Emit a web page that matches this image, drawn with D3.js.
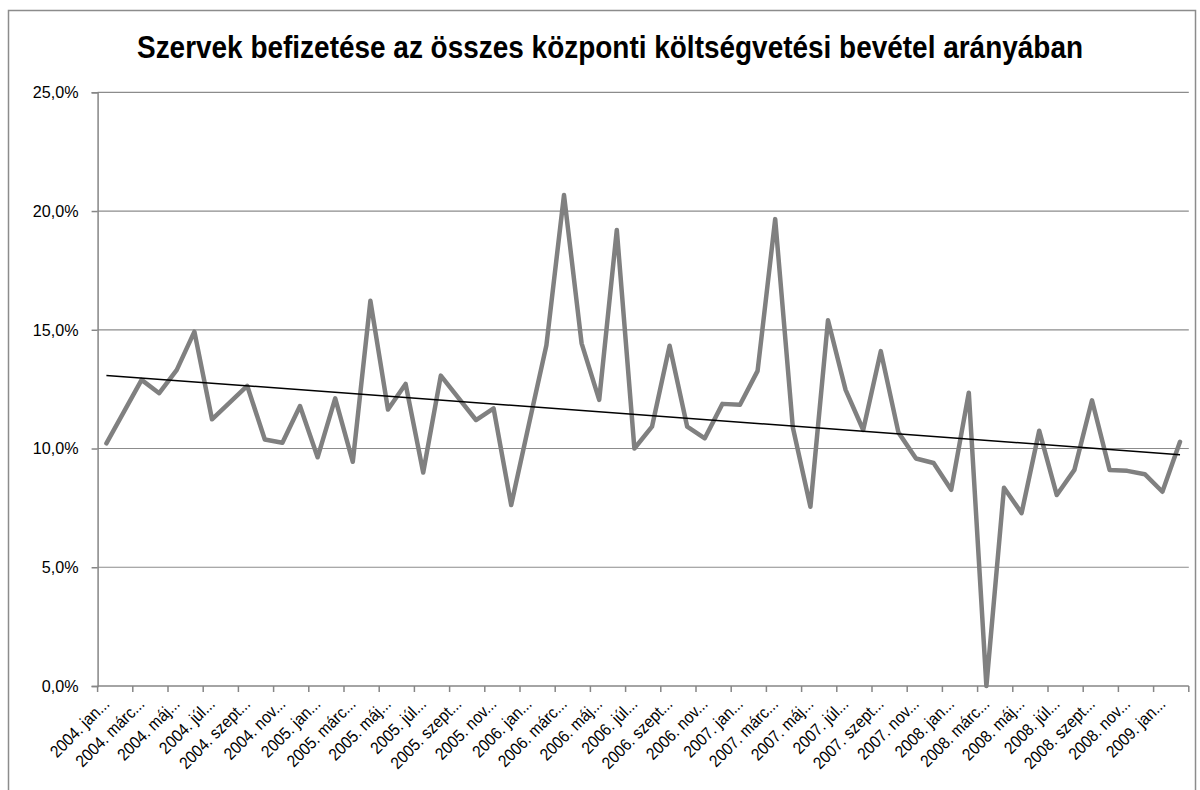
<!DOCTYPE html>
<html>
<head>
<meta charset="utf-8">
<script src="https://d3js.org/d3.v7.min.js"></script>
<style>
	body {margin: 0; background: #fff; }
	svg {display: block; }
	text {font-family: 'Liberation Sans', Arial, sans-serif; fill: #000; }
</style>
</head>
<body>
<svg id="chart" width="1200" height="790"></svg>
<script>
// chart title and axis ticks
const title = "Szervek befizetése az összes központi költségvetési bevétel arányában";
const years = [2004, 2005, 2006, 2007, 2008, 2009];
const monthNames = ["jan.", "febr.", "márc.", "ápr.", "máj.", "jún.", "júl.", "aug.", "szept.", "okt.", "nov.", "dec."];
const yTicks = [0, 5, 10, 15, 20, 25];

// monthly share (%), 2004 jan -> 2009 febr
const values = [
	10.22, 11.55, 12.89, 12.33, 13.31, 14.92, 11.23, 11.93, 12.64, 10.38, 10.24, 11.79,
	9.63, 12.11, 9.44, 16.22, 11.64, 12.72, 8.99, 13.07, 12.13, 11.20, 11.69, 7.62,
	11.00, 14.35, 20.68, 14.43, 12.05, 19.20, 10.00, 10.92, 14.33, 10.92, 10.43, 11.88,
	11.84, 13.27, 19.66, 10.90, 7.55, 15.40, 12.47, 10.78, 14.10, 10.68, 9.58, 9.39,
	8.26, 12.35, 0.00, 8.35, 7.28, 10.75, 8.04, 9.10, 12.03, 9.10, 9.06, 8.92,
	8.18, 10.28
];

const categories = years.flatMap(y => monthNames.map(m => `${y}. ${m}`)).slice(0, values.length);

const svg = d3.select("#chart"),
	margin = {top: 92.3, right: 1200 - 1188.8, bottom: 790 - 686, left: 97.6};

// outer chart border
svg.append("rect")
	.attr("x", 8.5).attr("y", 10.5)
	.attr("width", 1187).attr("height", 800)
	.attr("fill", "none")
	.attr("stroke", "#8c8c8c")
	.attr("stroke-width", 1.5);

// narrow-looking title: squeeze the glyphs into the reference width
svg.append("text")
	.attr("x", 610).attr("y", 58)
	.attr("text-anchor", "middle")
	.attr("font-size", "31px")
	.attr("font-weight", "bold")
	.attr("textLength", 946)
	.attr("lengthAdjust", "spacingAndGlyphs")
	.text(title);

const x = d3.scaleBand()
	.domain(categories)
	.range([margin.left, 1200 - margin.right])
	.paddingInner(0).paddingOuter(0);

const y = d3.scaleLinear()
	.domain([0, 25])
	.range([686, margin.top]);

// gridlines
svg.append("g")
	.selectAll("line")
	.data(yTicks.filter(d => d > 0))
	.enter()
	.append("line")
	.attr("x1", margin.left).attr("x2", 1200 - margin.right)
	.attr("y1", d => y(d)).attr("y2", d => y(d))
	.attr("stroke", "#8c8c8c")
	.attr("stroke-width", 1.2);

// y axis
const yAxis = svg.append("g")
	.attr("transform", `translate(${margin.left},0)`)
	.call(d3.axisLeft(y).tickValues(yTicks).tickSize(6).tickPadding(0)
		.tickFormat(d => d3.format(".1f")(d).replace(".", ",") + "%"));
yAxis.select(".domain").attr("stroke", "#868686").attr("stroke-width", 1.5);
yAxis.selectAll(".tick line").attr("stroke", "#868686").attr("stroke-width", 1.5);
yAxis.selectAll(".tick text")
	.attr("x", null)
	.attr("font-size", "17px")
	.attr("fill", "#000")
	.attr("transform", "translate(-19,0) scale(0.95,1)");

// x axis: tick every second month, label on the month itself
const step = x.bandwidth();
const tickPos = d3.range(0, values.length + 1, 2).map(i => margin.left + i * step);
const xAxis = svg.append("g");
xAxis.append("line")
	.attr("x1", margin.left).attr("x2", 1200 - margin.right)
	.attr("y1", 686).attr("y2", 686)
	.attr("stroke", "#868686")
	.attr("stroke-width", 1.5);
xAxis.selectAll(".xtick")
	.data(tickPos)
	.enter()
	.append("line")
	.attr("class", "xtick")
	.attr("x1", d => d).attr("x2", d => d)
	.attr("y1", 686).attr("y2", 692)
	.attr("stroke", "#868686")
	.attr("stroke-width", 1.5);

// labels are cut by the spreadsheet, shown as "2004. jan.."
const labelled = categories.filter((d, i) => i % 2 === 0);
xAxis.selectAll(".xlabel")
	.data(labelled)
	.enter()
	.append("text")
	.attr("class", "xlabel")
	.attr("text-anchor", "end")
	.attr("font-size", "17px")
	.attr("transform", d => `translate(${x(d) + step / 2 + 4},705) rotate(-45) scale(0.9,1)`)
	.text(d => d + "..");

// data line
const line = d3.line()
	.x((d, i) => x(categories[i]) + step / 2)
	.y(d => y(d));

svg.append("path")
	.datum(values)
	.attr("fill", "none")
	.attr("stroke", "#808080")
	.attr("stroke-width", 4.5)
	.attr("stroke-linejoin", "round")
	.attr("stroke-linecap", "round")
	.attr("d", line);

// linear trendline (least squares, like the spreadsheet)
const idx = d3.range(values.length);
const mx = d3.mean(idx), my = d3.mean(values);
const slope = d3.sum(idx, i => (i - mx) * (values[i] - my)) / d3.sum(idx, i => (i - mx) ** 2);
const icpt = my - slope * mx;
const trend = [0, values.length - 1].map(i => [x(categories[i]) + step / 2, y(icpt + slope * i)]);

svg.append("path")
	.datum(trend)
	.attr("fill", "none")
	.attr("stroke", "#000")
	.attr("stroke-width", 1.5)
	.attr("d", d3.line());
</script>
</body>
</html>
